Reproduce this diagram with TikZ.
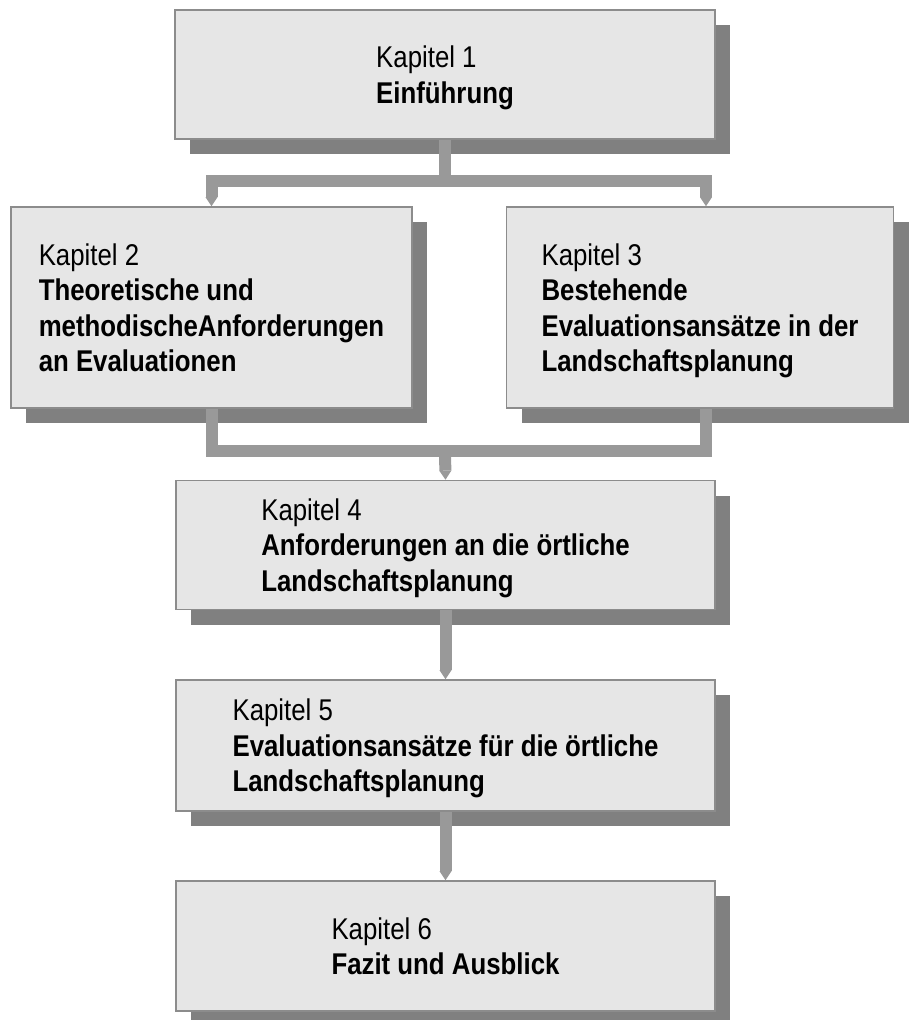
\documentclass[tikz,border=0pt]{standalone}
\usepackage{fontspec}
\setmainfont{Liberation Sans}[FakeStretch=0.86]
\usetikzlibrary{arrows.meta,shadows,calc}
\definecolor{boxfill}{HTML}{E6E6E6}
\definecolor{boxline}{HTML}{8C8C8C}
\definecolor{shadowgray}{HTML}{808080}
\definecolor{conngray}{HTML}{999999}
\begin{document}
\begin{tikzpicture}[x=1pt,y=-1pt,
  chapter/.style={draw=boxline, line width=1.6pt, fill=boxfill, align=left,
    inner sep=0pt, font=\fontsize{30pt}{35.5pt}\selectfont, text depth=0pt,
    general shadow={fill=shadowgray, shadow xshift=15pt, shadow yshift=-15pt}},
  conn/.style={draw=conngray, line width=12pt, line join=miter},
  arrowtip/.style={-{Triangle[width=12pt,length=9pt,line width=0pt]}}
]
\useasboundingbox (0,0) rectangle (908,1020);

\node[chapter, minimum width=540pt, minimum height=129pt] (b1) at (445,74.5)
  {Kapitel 1\\\textbf{Einführung}};
\node[chapter, minimum width=401pt, minimum height=201pt] (b2) at (211.5,307.5)
  {Kapitel 2\\\textbf{Theoretische und}\\\textbf{methodischeAnforderungen}\\\textbf{an Evaluationen}};
\node[chapter, minimum width=387pt, minimum height=201pt] (b3) at (700,307.5)
  {Kapitel 3\\\textbf{Bestehende}\\\textbf{Evaluationsansätze in der}\\\textbf{Landschaftsplanung}};
\node[chapter, minimum width=539pt, minimum height=129pt] (b4) at (445.5,545)
  {Kapitel 4\\\textbf{Anforderungen an die örtliche}\\\textbf{Landschaftsplanung}};
\node[chapter, minimum width=539pt, minimum height=131pt] (b5) at (445.5,745.5)
  {Kapitel 5\\\textbf{Evaluationsansätze für die örtliche}\\\textbf{Landschaftsplanung}};
\node[chapter, minimum width=539pt, minimum height=130pt] (b6) at (445.5,946)
  {Kapitel 6\\\textbf{Fazit und Ausblick}};

\coordinate (j1) at (445,181);
\coordinate (j2) at (445,451);

\draw[conn, arrowtip] (b1.south) -- (j1) -| (b2.north);
\draw[conn, arrowtip] (j1) -| ($(b3.north)+(6,0)$);
\draw[conn] (b2.south) |- (j2);
\draw[conn] ($(b3.south)+(6,0)$) |- (j2);
\draw[conn, arrowtip] (j2) -- (b4.north);
\draw[conn, arrowtip] (b4.south) -- (b5.north);
\draw[conn, arrowtip] (b5.south) -- (b6.north);
\end{tikzpicture}
\end{document}
